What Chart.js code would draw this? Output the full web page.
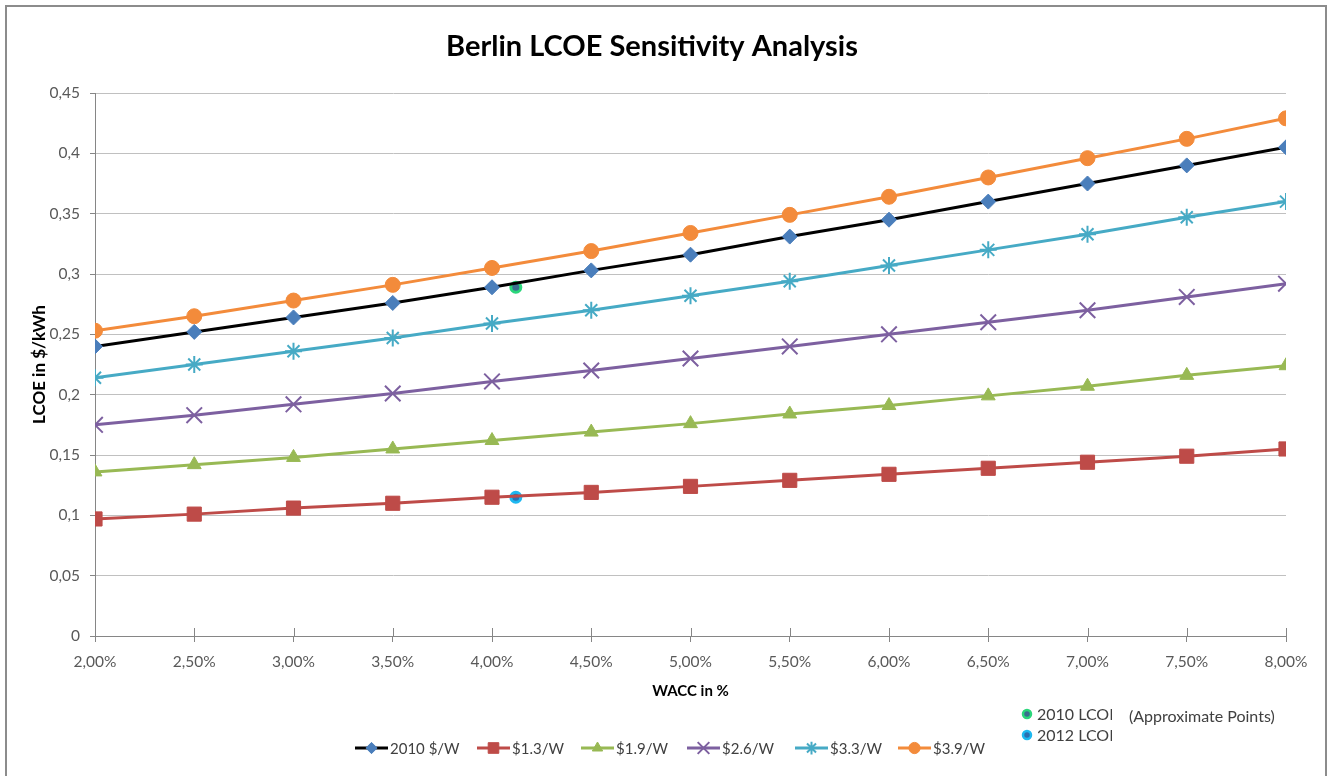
<!DOCTYPE html>
<html>
<head>
<meta charset="utf-8">
<title>Berlin LCOE Sensitivity Analysis</title>
<script src="https://cdn.jsdelivr.net/npm/chart.js@4.4.1/dist/chart.umd.min.js"></script>
<style>
  html, body { margin: 0; padding: 0; background: #ffffff; }
  #wrap { width: 1336px; height: 776px; }
</style>
</head>
<body>
<div id="wrap"><canvas id="c" width="1336" height="776"></canvas></div>
<script>
// WACC steps (percent) and their axis labels
const wacc = [2.0, 2.5, 3.0, 3.5, 4.0, 4.5, 5.0, 5.5, 6.0, 6.5, 7.0, 7.5, 8.0];
const xTickLabels = ['2,00%', '2,50%', '3,00%', '3,50%', '4,00%', '4,50%', '5,00%',
                     '5,50%', '6,00%', '6,50%', '7,00%', '7,50%', '8,00%'];
const yTickLabels = ['0', '0,05', '0,1', '0,15', '0,2', '0,25', '0,3', '0,35', '0,4', '0,45'];

// LCOE in $/kWh for each system price
const lcoe2010 = [0.240, 0.252, 0.264, 0.276, 0.289, 0.303, 0.316, 0.331, 0.345, 0.360, 0.375, 0.390, 0.405];
const lcoe13   = [0.097, 0.101, 0.106, 0.110, 0.115, 0.119, 0.124, 0.129, 0.134, 0.139, 0.144, 0.149, 0.155];
const lcoe19   = [0.136, 0.142, 0.148, 0.155, 0.162, 0.169, 0.176, 0.184, 0.191, 0.199, 0.207, 0.216, 0.224];
const lcoe26   = [0.175, 0.183, 0.192, 0.201, 0.211, 0.220, 0.230, 0.240, 0.250, 0.260, 0.270, 0.281, 0.292];
const lcoe33   = [0.214, 0.225, 0.236, 0.247, 0.259, 0.270, 0.282, 0.294, 0.307, 0.320, 0.333, 0.347, 0.360];
const lcoe39   = [0.253, 0.265, 0.278, 0.291, 0.305, 0.319, 0.334, 0.349, 0.364, 0.380, 0.396, 0.412, 0.429];

const seriesNames = ['2010 $/W', '$1.3/W', '$1.9/W', '$2.6/W', '$3.3/W', '$3.9/W'];

// Approximate observed LCOE points: [WACC %, LCOE]
const point2010 = [4.12, 0.289];
const point2012 = [4.12, 0.115];
const markerNames = ['2010 LCOE', '2012 LCOE'];

const FONT = "Lato, 'Open Sans', sans-serif";

function toXY(values) {
  return values.map((v, i) => ({ x: wacc[i], y: v }));
}

function lineSet(label, values, lineColor, markColor, style, radius, bw) {
  return {
    label: label,
    data: toXY(values),
    borderColor: lineColor,
    borderWidth: 3,
    backgroundColor: markColor,
    pointBackgroundColor: markColor,
    pointBorderColor: markColor,
    pointBorderWidth: bw,
    pointStyle: style,
    pointRadius: radius,
    pointHoverRadius: radius,
    tension: 0,
    fill: false
  };
}

const datasets = [
  lineSet(seriesNames[0], lcoe2010, '#000000', '#4A7EBB', 'rectRot', 7.5, 1),
  lineSet(seriesNames[1], lcoe13,   '#BE4B48', '#BE4B48', 'rect',    10, 1),
  lineSet(seriesNames[2], lcoe19,   '#98B954', '#98B954', 'triangle', 8, 1),
  lineSet(seriesNames[3], lcoe26,   '#7D60A0', '#7D60A0', 'crossRot', 11, 2),
  lineSet(seriesNames[4], lcoe33,   '#46AAC5', '#46AAC5', 'star',    8.5, 2),
  lineSet(seriesNames[5], lcoe39,   '#F38B3B', '#F38B3B', 'circle',  7.5, 1),
  {
    label: markerNames[0],
    type: 'scatter',
    data: [{ x: point2010[0], y: point2010[1] }],
    pointStyle: 'circle',
    pointRadius: 5,
    pointBackgroundColor: '#3A6E8F',
    pointBorderColor: '#2BD67B',
    pointBorderWidth: 3,
    showLine: false
  },
  {
    label: markerNames[1],
    type: 'scatter',
    data: [{ x: point2012[0], y: point2012[1] }],
    pointStyle: 'circle',
    pointRadius: 5,
    pointBackgroundColor: '#2C6FB0',
    pointBorderColor: '#1EB8F0',
    pointBorderWidth: 3,
    showLine: false
  }
];

// Frame, title, axis titles, legends and the upper half of the x tick marks
const decorations = {
  id: 'decorations',
  afterDraw(chart) {
    const ctx = chart.ctx;
    const area = chart.chartArea;
    const xs = chart.scales.x;
    ctx.save();

    // outer frame
    ctx.strokeStyle = '#8C8C8C';
    ctx.lineWidth = 2;
    ctx.strokeRect(6, 6, 1320, 790);

    // x tick marks above the axis
    ctx.strokeStyle = '#868686';
    ctx.lineWidth = 1;
    wacc.forEach(v => {
      const px = Math.round(xs.getPixelForValue(v)) + 0.5;
      ctx.beginPath();
      ctx.moveTo(px, area.bottom - 8);
      ctx.lineTo(px, area.bottom);
      ctx.stroke();
    });

    // title
    ctx.fillStyle = '#000000';
    ctx.textAlign = 'center';
    ctx.textBaseline = 'middle';
    ctx.font = "bold 29px " + FONT;
    ctx.fillText('Berlin LCOE Sensitivity Analysis', 652, 47);

    // axis titles
    ctx.font = "bold 15px " + FONT;
    ctx.fillText('WACC in %', (area.left + area.right) / 2, 691);
    ctx.save();
    ctx.translate(40, (area.top + area.bottom) / 2);
    ctx.rotate(-Math.PI / 2);
    ctx.font = "bold 17px " + FONT;
    ctx.fillText('LCOE in $/kWh', 0, 0);
    ctx.restore();

    // series legend
    const starts = [355, 477, 581, 687, 795, 898];
    const ly = 748;
    ctx.font = "15px " + FONT;
    ctx.textAlign = 'left';
    for (let i = 0; i < 6; i++) {
      const ds = chart.data.datasets[i];
      const x0 = starts[i];
      ctx.strokeStyle = ds.borderColor;
      ctx.lineWidth = 3;
      ctx.beginPath();
      ctx.moveTo(x0, ly);
      ctx.lineTo(x0 + 33, ly);
      ctx.stroke();
      ctx.fillStyle = ds.pointBackgroundColor;
      ctx.strokeStyle = ds.pointBorderColor;
      ctx.lineWidth = ds.pointBorderWidth;
      Chart.helpers.drawPoint(ctx, { pointStyle: ds.pointStyle, radius: ds.pointRadius * 0.75, borderWidth: ds.pointBorderWidth, rotation: 0 }, x0 + 16.5, ly);
      ctx.fillStyle = '#404040';
      ctx.fillText(ds.label, x0 + 35, ly + 1);
    }

    // approximate points legend (text box clipped on the right)
    const mk = [[1027, 714, 6], [1027, 735, 7]];
    ctx.font = "16px " + FONT;
    mk.forEach(m => {
      const ds = chart.data.datasets[m[2]];
      ctx.fillStyle = ds.pointBackgroundColor;
      ctx.strokeStyle = ds.pointBorderColor;
      ctx.lineWidth = 2.5;
      ctx.beginPath();
      ctx.arc(m[0], m[1], 4, 0, Math.PI * 2);
      ctx.fill();
      ctx.stroke();
      ctx.save();
      ctx.beginPath();
      ctx.rect(m[0] + 8, m[1] - 12, 77, 24);
      ctx.clip();
      ctx.fillStyle = '#404040';
      ctx.fillText(ds.label, m[0] + 10, m[1] + 1);
      ctx.restore();
    });
    ctx.fillStyle = '#404040';
    ctx.fillText('(Approximate Points)', 1129, 717);

    ctx.restore();
  }
};

new Chart(document.getElementById('c'), {
  type: 'line',
  data: { datasets: datasets },
  plugins: [decorations],
  options: {
    responsive: false,
    animation: false,
    events: [],
    layout: { padding: { top: 93, left: 0, right: 50, bottom: 0 } },
    plugins: {
      legend: { display: false },
      title: { display: false },
      tooltip: { enabled: false }
    },
    scales: {
      x: {
        type: 'linear',
        min: 2,
        max: 8,
        ticks: {
          stepSize: 0.5,
          color: '#595959',
          font: { family: FONT, size: 15.5 },
          padding: 11,
          maxRotation: 0,
          callback: v => xTickLabels[Math.round((v - 2) / 0.5)]
        },
        grid: { drawOnChartArea: false, drawTicks: true, tickLength: 6, color: '#868686' },
        border: { color: '#868686', width: 1 },
        afterFit: s => { s.height = 140; }
      },
      y: {
        min: 0,
        max: 0.45,
        ticks: {
          stepSize: 0.05,
          color: '#595959',
          font: { family: FONT, size: 15.5 },
          padding: 10,
          callback: v => yTickLabels[Math.round(v / 0.05)]
        },
        grid: { color: '#C0C0C0', tickLength: 5, tickColor: '#868686' },
        border: { color: '#868686', width: 1 },
        afterFit: s => { s.width = 95; }
      }
    }
  }
});
</script>
</body>
</html>
